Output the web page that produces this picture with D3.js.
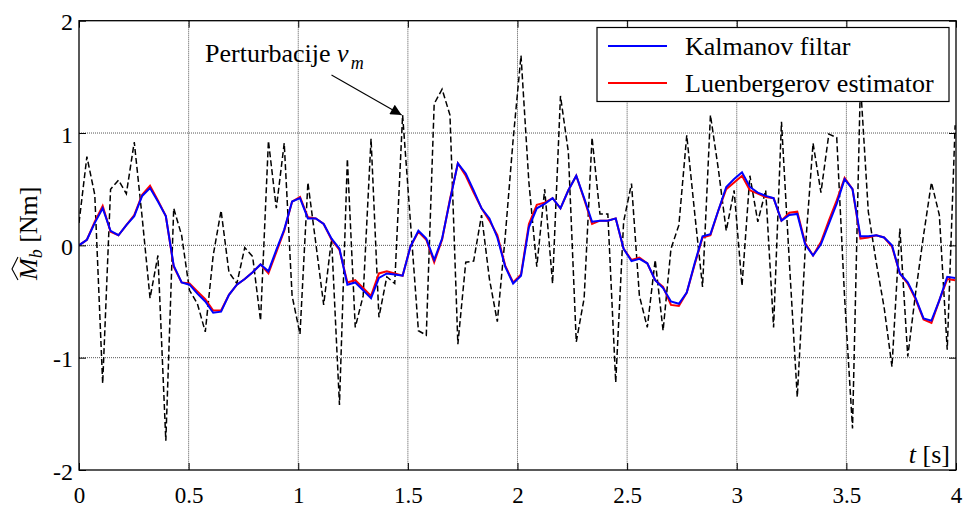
<!DOCTYPE html>
<html>
<head>
<meta charset="utf-8">
<script src="https://cdn.jsdelivr.net/npm/d3@7"></script>
<style>
  html, body { margin: 0; padding: 0; background: #fff; }
  svg text { font-family: "Liberation Serif", "Times New Roman", serif; fill: #000; }
</style>
</head>
<body>
<svg id="chart" width="963" height="509"></svg>
<script>
// ---- data ----
const DT = 0.036;           // sampling step [s]
const xTicks = [0, 0.5, 1, 1.5, 2, 2.5, 3, 3.5, 4];
const xTickLabels = ["0", "0.5", "1", "1.5", "2", "2.5", "3", "3.5", "4"];
const yTicks = [-2, -1, 0, 1, 2];
const yTickLabels = ["-2", "-1", "0", "1", "2"];
const seriesNames = ["Kalmanov filtar", "Luenbergerov estimator"];

const perturbation = [
  0.20, 0.79, 0.45, -1.23, 0.50, 0.58, 0.46, 0.92, 0.25, -0.47,
  -0.09, -1.74, 0.33, 0.09, -0.40, -0.52, -0.77, -0.09, 0.31, -0.24,
  -0.34, -0.02, -0.10, -0.67, 0.93, 0.33, 0.91, -0.45, -0.79, 0.56,
  0.02, -0.53, 0.06, -1.42, 0.77, -0.73, -0.45, 0.95, -0.64, -0.28,
  -0.34, 1.16, 0.20, -0.76, -0.80, 1.26, 1.39, 1.16, -0.88, -0.15,
  -0.14, 0.27, -0.30, -0.68, 0.08, 0.94, 1.69, 0.56, -0.19, 0.50,
  -0.34, 1.33, 0.83, -0.86, -0.47, 0.96, 0.28, 0.28, -1.22, 0.21,
  0.55, -0.45, -0.73, -0.13, -0.76, -0.03, 0.18, 0.98, 0.29, -0.37,
  1.16, 0.68, 0.13, 0.49, -0.36, 0.62, 0.21, 0.49, -0.73, 1.10,
  -0.15, -1.35, -0.05, 0.91, 0.47, 0.99, 0.96, -0.47, -1.63, 1.45,
  0.30, -0.15, -0.55, -1.08, 0.15, -0.99, -0.42, 0.09, 0.56, 0.27,
  -0.93, 1.07
];

const kalman = [
  0.00, 0.05, 0.20, 0.33, 0.13, 0.09, 0.18, 0.26, 0.44, 0.51,
  0.39, 0.26, -0.18, -0.33, -0.35, -0.43, -0.50, -0.60, -0.59, -0.44,
  -0.35, -0.30, -0.24, -0.17, -0.23, -0.04, 0.14, 0.39, 0.42, 0.24,
  0.24, 0.19, 0.06, -0.03, -0.35, -0.33, -0.40, -0.47, -0.29, -0.25,
  -0.26, -0.27, -0.01, 0.13, 0.06, -0.13, 0.06, 0.40, 0.73, 0.64,
  0.49, 0.33, 0.24, 0.07, -0.19, -0.34, -0.27, 0.16, 0.33, 0.37,
  0.42, 0.33, 0.49, 0.62, 0.42, 0.21, 0.22, 0.22, 0.24, -0.03,
  -0.14, -0.12, -0.16, -0.31, -0.38, -0.50, -0.52, -0.42, -0.16, 0.08,
  0.10, 0.31, 0.52, 0.59, 0.65, 0.52, 0.47, 0.44, 0.42, 0.22,
  0.27, 0.28, 0.01, -0.09, 0.01, 0.19, 0.37, 0.59, 0.50, 0.08,
  0.08, 0.09, 0.07, 0.00, -0.25, -0.33, -0.47, -0.65, -0.67, -0.49,
  -0.28, -0.29
];

const luenberger = [
  0.00, 0.05, 0.21, 0.35, 0.12, 0.09, 0.18, 0.27, 0.45, 0.53,
  0.40, 0.26, -0.19, -0.33, -0.34, -0.41, -0.48, -0.58, -0.58, -0.44,
  -0.35, -0.30, -0.24, -0.17, -0.25, -0.06, 0.13, 0.39, 0.43, 0.25,
  0.24, 0.19, 0.05, -0.04, -0.33, -0.31, -0.38, -0.45, -0.25, -0.23,
  -0.25, -0.27, -0.01, 0.12, 0.05, -0.15, 0.05, 0.41, 0.73, 0.62,
  0.47, 0.33, 0.22, 0.09, -0.18, -0.33, -0.26, 0.19, 0.36, 0.38,
  0.42, 0.33, 0.49, 0.62, 0.41, 0.19, 0.22, 0.22, 0.24, -0.03,
  -0.13, -0.11, -0.16, -0.31, -0.37, -0.53, -0.54, -0.42, -0.17, 0.07,
  0.09, 0.31, 0.50, 0.56, 0.62, 0.49, 0.46, 0.43, 0.42, 0.22,
  0.29, 0.30, 0.02, -0.09, 0.03, 0.22, 0.40, 0.60, 0.50, 0.06,
  0.07, 0.09, 0.07, -0.01, -0.25, -0.34, -0.48, -0.66, -0.69, -0.49,
  -0.30, -0.31
];

// ---- layout ----
const svg = d3.select("#chart");
const L = 79, R = 956, T = 20.7, B = 470;
const x = d3.scaleLinear().domain([0, 4]).range([L, R]);
const y = d3.scaleLinear().domain([-2, 2]).range([B, T]);
const tOf = (d, i) => x(i * DT);

// grid
const grid = svg.append("g");
grid.selectAll("line.gx").data(xTicks.slice(1, -1)).join("line")
  .attr("x1", d => x(d)).attr("x2", d => x(d)).attr("y1", T).attr("y2", B)
  .attr("stroke", "#555").attr("stroke-width", 1).attr("stroke-dasharray", "1,1");
grid.selectAll("line.gy").data(yTicks.slice(1, -1)).join("line")
  .attr("x1", L).attr("x2", R).attr("y1", d => y(d)).attr("y2", d => y(d))
  .attr("stroke", "#555").attr("stroke-width", 1).attr("stroke-dasharray", "1,1");

// clip
svg.append("clipPath").attr("id", "clip").append("rect")
  .attr("x", L).attr("y", T).attr("width", R - L).attr("height", B - T);

const lineGen = d3.line().x(tOf).y(d => y(d));
const plot = svg.append("g").attr("clip-path", "url(#clip)");
plot.append("path").datum(perturbation).attr("d", lineGen)
  .attr("fill", "none").attr("stroke", "#000").attr("stroke-width", 1.5)
  .attr("stroke-dasharray", "6,3");
plot.append("path").datum(luenberger).attr("d", lineGen)
  .attr("fill", "none").attr("stroke", "#ff0000").attr("stroke-width", 2);
plot.append("path").datum(kalman).attr("d", lineGen)
  .attr("fill", "none").attr("stroke", "#0000ff").attr("stroke-width", 2);

// axes with inward ticks
const TK = 7;
const axB = d3.axisBottom(x).tickValues(xTicks).tickSize(-TK).tickFormat((d, i) => xTickLabels[i]).tickPadding(0);
const axT = d3.axisTop(x).tickValues(xTicks).tickSize(-TK).tickFormat("");
const axL = d3.axisLeft(y).tickValues(yTicks).tickSize(-TK).tickFormat((d, i) => yTickLabels[i]);
const axR = d3.axisRight(y).tickValues(yTicks).tickSize(-TK).tickFormat("");

function styleAxis(g) {
  g.select(".domain").remove();
  g.selectAll(".tick line").attr("stroke", "#000").attr("stroke-width", 1);
  g.selectAll("text").style("font-family", "'Liberation Serif', serif").style("font-size", "24px").attr("fill", "#000");
}
const gB = svg.append("g").attr("transform", `translate(0,${B})`).call(axB).call(styleAxis);
gB.selectAll("text").attr("y", 33).attr("dy", null).style("font-size", "23px");
svg.append("g").attr("transform", `translate(0,${T})`).call(axT).call(styleAxis);
const gL = svg.append("g").attr("transform", `translate(${L},0)`).call(axL).call(styleAxis);
gL.selectAll("text").attr("x", -6).attr("dy", null).attr("y", 9);
svg.append("g").attr("transform", `translate(${R},0)`).call(axR).call(styleAxis);

// frame
svg.append("rect").attr("x", L).attr("y", T).attr("width", R - L).attr("height", B - T)
  .attr("fill", "none").attr("stroke", "#000").attr("stroke-width", 1.3);

// legend
const lg = svg.append("g");
lg.append("rect").attr("x", 597).attr("y", 27.5).attr("width", 352).attr("height", 74)
  .attr("fill", "#fff").attr("stroke", "#000").attr("stroke-width", 1.2);
const legColors = ["#0000ff", "#ff0000"];
const legY = [46, 83];
seriesNames.forEach((name, i) => {
  lg.append("line").attr("x1", 608).attr("x2", 667).attr("y1", legY[i]).attr("y2", legY[i])
    .attr("stroke", legColors[i]).attr("stroke-width", 2);
  lg.append("text").attr("x", 685).attr("y", legY[i] + 9).style("font-size", "26px").text(name);
});

// annotation
const ann = svg.append("text").attr("x", 205).attr("y", 62).style("font-size", "26px");
ann.append("tspan").text("Perturbacije ");
ann.append("tspan").style("font-style", "italic").text("ν");
ann.append("tspan").style("font-style", "italic").style("font-size", "18px").attr("dy", 7).attr("dx", 2).text("m");

svg.append("defs").append("marker").attr("id", "arr").attr("viewBox", "0 0 10 10")
  .attr("refX", 10).attr("refY", 5).attr("markerWidth", 15).attr("markerHeight", 11)
  .attr("markerUnits", "userSpaceOnUse").attr("orient", "auto")
  .append("path").attr("d", "M0,0 L10,5 L0,10 z").attr("fill", "#000");
const tipI = 41;
svg.append("line").attr("x1", 331.5).attr("y1", 75)
  .attr("x2", x(tipI * DT) - 1).attr("y2", y(perturbation[tipI]))
  .attr("stroke", "#000").attr("stroke-width", 1.1).attr("marker-end", "url(#arr)");

// x label
const xl = svg.append("text").attr("x", 950).attr("y", 463).attr("text-anchor", "end").style("font-size", "26px");
xl.append("tspan").style("font-style", "italic").text("t");
xl.append("tspan").text(" [s]");

// y label
const yl = svg.append("g").attr("transform", "translate(37,235) rotate(-90)");
const ylt = yl.append("text").attr("x", -45).attr("y", 0).style("font-size", "26px");
ylt.append("tspan").style("font-style", "italic").text("M");
ylt.append("tspan").style("font-style", "italic").style("font-size", "18px").attr("dy", 5).text("b");
ylt.append("tspan").attr("dy", -5).text(" [Nm]");
yl.append("path").attr("d", "M-45,-19 L-34,-25 L-22,-19")
  .attr("fill", "none").attr("stroke", "#000").attr("stroke-width", 1.1);
</script>
</body>
</html>
